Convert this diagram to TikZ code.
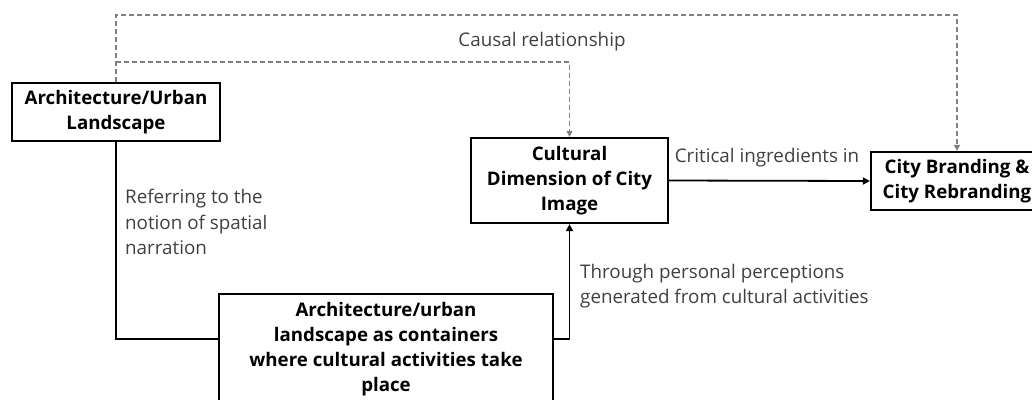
\documentclass[tikz,border=0pt]{standalone}
\usepackage{fontspec}
\setmainfont{Open Sans}
\usetikzlibrary{arrows.meta}
\definecolor{lblgray}{HTML}{404040}
\definecolor{dashgray}{HTML}{808080}
\tikzset{
  box/.style={draw=black, line width=2.2pt, inner sep=0pt, align=center, text=black,
    font=\bfseries\fontsize{18.7}{24.8}\selectfont},
  lbl/.style={inner sep=0pt, text=lblgray, font=\fontsize{18.8}{25.5}\selectfont},
  solidarrow/.style={draw=black, line width=1.8pt, -{Triangle[length=7pt,width=7pt]}},
  solidline/.style={draw=black, line width=1.8pt},
  causal/.style={draw=dashgray, line width=1.1pt, dash pattern=on 5pt off 3pt},
  causalarrow/.style={causal, -{Triangle[length=6pt,width=6pt]}},
}
\begin{document}
\begin{tikzpicture}[x=1pt,y=-1pt]
\useasboundingbox (0,0) rectangle (1032,399);
\clip (0,0) rectangle (1032,399);
% nodes
\node[box, minimum width=208pt, minimum height=58pt] (A) at (116,112) {Architecture/Urban\\Landscape};
\node[box, minimum width=197pt, minimum height=85pt] (C) at (569.5,180.5) {Cultural\\Dimension of City\\Image};
\node[box, minimum width=172pt, minimum height=58pt] (D) at (957,181) {City Branding \&\\City Rebranding};
\node[box, minimum width=334pt, minimum height=110pt] (B) at (386,349) {Architecture/urban\\landscape as containers\\where cultural activities take\\place};
% dashed causal connectors
\draw[causalarrow] (A.north) -- (A.north |- 0,15) -| (D.north);
\draw[causalarrow] (A.north |- 0,62) -| (C.north);
% solid connectors
\draw[solidline] (A.south) |- ([yshift=10pt]B.west);
\draw[solidarrow] ([yshift=10pt]B.east) -| (C.south);
\draw[solidarrow] (C.east) -- (D.west);
% labels
\node[lbl] (causallbl) at (542,42) {Causal relationship};
\node[lbl] (critlbl) at (767,158) {Critical ingredients in};
\node[lbl, anchor=west, align=left] (reflbl) at (125,222) {Referring to the\\notion of spatial\\narration};
\node[lbl, anchor=west, align=left] (thrlbl) at (580,286) {Through personal perceptions\\generated from cultural activities};
\end{tikzpicture}
\end{document}
